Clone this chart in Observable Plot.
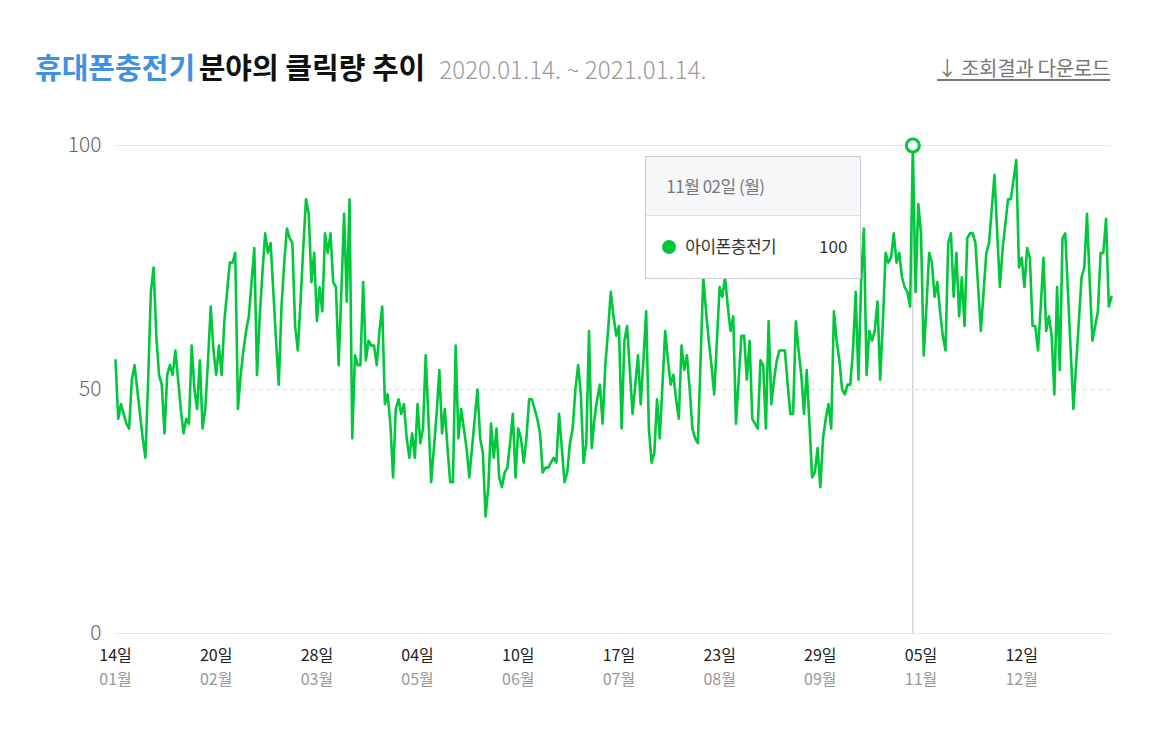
<!DOCTYPE html>
<html>
<head>
<meta charset="utf-8">
<script src="https://cdn.jsdelivr.net/npm/d3@7"></script>
<script src="https://cdn.jsdelivr.net/npm/@observablehq/plot@0.6"></script>
<style>
  body { margin: 0; background: #fff; font-family: "Noto Sans CJK KR", "Noto Sans", sans-serif; }
  #wrap { position: relative; width: 1170px; height: 741px; overflow: hidden; }
  #title { position: absolute; left: 35px; top: 45px; white-space: nowrap; }
  #title .kw { color: #4191e2; font-size: 29px; font-weight: 700; letter-spacing: 0px; }
  #title .rest { color: #111; font-size: 29px; font-weight: 700; letter-spacing: 0px; }
  #title .range { color: #9a9a9a; font-size: 24px; font-weight: 300; margin-left: 14px; letter-spacing: 0.1px; }
  #download { position: absolute; right: 60px; top: 53px; color: #777; font-size: 20px; text-decoration: underline; text-underline-offset: 3px; white-space: nowrap; letter-spacing: -0.3px; }
  #chart { position: absolute; left: 0; top: 110px; }
  #tip { position: absolute; top: 156px; width: 216px; border: 1px solid #c9ced4; background: #fff; box-sizing: border-box; }
  #tip .hd { background: #f5f7f9; height: 58px; border-bottom: 1px solid #dde1e6; color: #777; font-size: 17px; line-height: 58px; padding-left: 20px; letter-spacing: -0.5px; }
  #tip .bd { height: 62px; position: relative; font-size: 17px; color: #333; }
  #tip .dot { position: absolute; left: 16px; top: 24px; width: 14px; height: 14px; border-radius: 50%; background: #00c73c; }
  #tip .nm { position: absolute; left: 39px; top: 17px; letter-spacing: -0.5px; }
  #tip .vl { position: absolute; right: 13px; top: 17px; }
</style>
</head>
<body>
<div id="wrap">
  <div id="title"><span class="kw"></span> <span class="rest"></span><span class="range"></span></div>
  <div id="download"></div>
  <div id="chart"></div>
  <div id="tip"><div class="hd"></div><div class="bd"><span class="dot"></span><span class="nm"></span><span class="vl"></span></div></div>
</div>
<script>
const keyword = "휴대폰충전기";
const titleRest = "분야의 클릭량 추이";
const rangeText = "2020.01.14. ~ 2021.01.14.";
const downloadText = "↓ 조회결과 다운로드";
const seriesName = "아이폰충전기";
const startDate = "2020-01-14";
const endDate = "2021-01-14";

// daily click index, 2020-01-14 .. 2021-01-14
const clicks = [
  56,44,47,45,43,42,52,55,50,45,
  40,36,52,70,75,61,53,51,41,53,
  55,53,58,52,46,41,44,43,59,50,
  46,56,42,46,56,67,58,53,59,53,
  64,70,76,76,78,46,53,58,62,65,
  72,79,53,65,74,82,78,80,70,60,
  51,67,76,83,81,80,63,58,68,79,
  89,86,72,78,64,71,66,82,78,82,
  72,71,55,70,86,68,89,40,57,55,
  55,72,56,60,59,59,55,62,67,47,
  49,43,32,46,48,45,47,40,36,41,
  36,47,39,42,57,44,31,38,45,54,
  41,46,38,31,31,59,40,46,42,38,
  32,38,44,50,40,37,24,30,43,36,
  42,32,30,33,34,39,45,32,42,40,
  35,40,48,48,46,44,41,33,34,34,
  35,36,35,45,38,31,33,39,42,50,
  55,49,35,39,62,38,44,48,51,43,
  55,62,70,65,61,63,42,60,63,54,
  45,51,57,47,56,66,42,35,37,48,
  40,51,62,56,51,53,48,44,59,54,
  57,50,42,40,39,56,73,66,60,55,
  49,60,71,69,73,67,62,65,43,52,
  61,61,52,60,44,43,42,56,55,42,
  64,47,52,56,58,58,58,51,45,45,
  64,58,53,45,54,43,32,33,38,30,
  40,44,47,42,66,60,56,50,49,51,
  51,58,70,52,72,83,53,62,60,62,
  68,52,64,78,76,77,82,76,78,73,
  71,70,67,100,70,88,82,57,67,78,
  76,69,72,66,61,58,80,82,69,78,
  65,73,63,81,82,82,80,71,62,70,
  78,80,87,94,82,71,79,84,89,89,
  93,97,75,77,71,79,77,63,63,58,
  67,77,62,65,61,49,71,54,81,82,
  70,58,46,55,64,73,75,86,72,60,
  63,66,78,78,85,67,69
];

const xTickDates = ["2020-01-14","2020-02-20","2020-03-28","2020-05-04","2020-06-10","2020-07-17","2020-08-23","2020-09-29","2020-11-05","2020-12-12"];
const xTickDays = ["14일","20일","28일","04일","10일","17일","23일","29일","05일","12일"];
const xTickMonths = ["01월","02월","03월","05월","06월","07월","08월","09월","11월","12월"];
const yTicks = [0, 50, 100];
const weekdays = ["일","월","화","수","목","금","토"];

const parse = d3.utcParse("%Y-%m-%d");
const start = parse(startDate);
const data = clicks.map((v, i) => ({date: d3.utcDay.offset(start, i), value: v}));
const peak = data.reduce((a, b) => (b.value > a.value ? b : a));
const xTicks = xTickDates.map((d, i) => ({date: parse(d), day: xTickDays[i], month: xTickMonths[i]}));

const green = "#00c73c";
const font = "'Noto Sans CJK KR', 'Noto Sans', sans-serif";

const chart = Plot.plot({
  width: 1170,
  height: 600,
  marginLeft: 115,
  marginRight: 59,
  marginTop: 35,
  marginBottom: 77,
  style: {fontFamily: font, background: "transparent", overflow: "visible"},
  x: {type: "utc", domain: [start, parse(endDate)], axis: null},
  y: {domain: [0, 100], axis: null},
  marks: [
    Plot.ruleY([0, 100], {stroke: "#e8e8e8", strokeWidth: 1}),
    Plot.ruleY([50], {stroke: "#dcdcdc", strokeDasharray: "4,4"}),
    Plot.text(yTicks, {y: d => d, frameAnchor: "left", dx: -14, textAnchor: "end", text: d => String(d), fontSize: 21, fontWeight: 300, fill: "#666"}),
    Plot.text(xTicks, {x: "date", frameAnchor: "bottom", dy: 27, text: "day", fontSize: 16, fill: "#222"}),
    Plot.text(xTicks, {x: "date", frameAnchor: "bottom", dy: 51, text: "month", fontSize: 16, fill: "#999"}),
    Plot.ruleX([peak], {x: "date", y1: 0, y2: 100, stroke: "#bfc4c9", strokeWidth: 1}),
    Plot.line(data, {x: "date", y: "value", stroke: green, strokeWidth: 2.6, strokeLinejoin: "round"}),
    Plot.dot([peak], {x: "date", y: "value", r: 6.5, fill: "#fff", stroke: green, strokeWidth: 3})
  ]
});
document.getElementById("chart").appendChild(chart);

document.querySelector("#title .kw").textContent = keyword;
document.querySelector("#title .rest").textContent = titleRest;
document.querySelector("#title .range").textContent = rangeText;
document.getElementById("download").textContent = downloadText;

const px = chart.scale("x").apply(peak.date);
const tip = document.getElementById("tip");
tip.style.left = (px - 267) + "px";
tip.querySelector(".hd").textContent = d3.utcFormat("%m월 %d일")(peak.date) + " (" + weekdays[peak.date.getUTCDay()] + ")";
tip.querySelector(".nm").textContent = seriesName;
tip.querySelector(".vl").textContent = String(peak.value);
</script>
</body>
</html>
